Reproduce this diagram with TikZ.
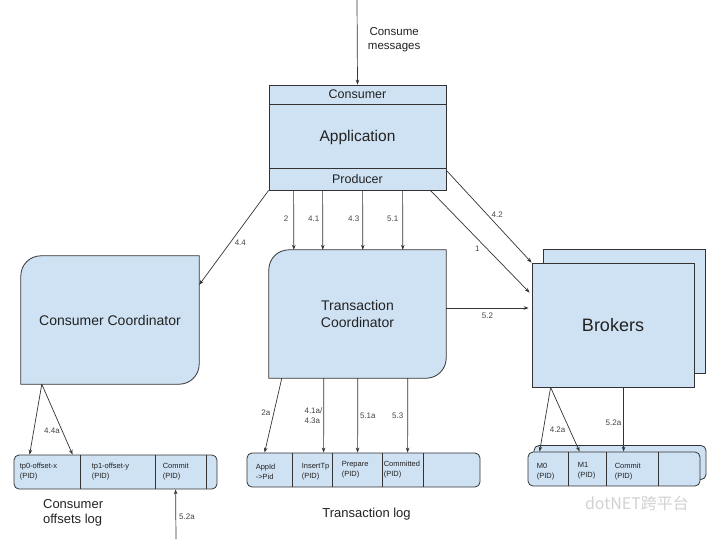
\documentclass[tikz,border=0pt]{standalone}
\usepackage{fontspec}
\setmainfont{Liberation Sans}
\newfontfamily\markfont{Noto Sans CJK SC}
\usetikzlibrary{arrows.meta}
\usetikzlibrary{calc,positioning}

\definecolor{boxblue}{HTML}{CFE2F3}
\definecolor{linegray}{HTML}{333333}
\definecolor{ink}{HTML}{222222}
\definecolor{numgray}{HTML}{444444}

\tikzset{
    box/.style = {draw=linegray, fill=boxblue, line width=0.8pt, inner sep=0pt},
    ghost/.style = {inner sep=0pt},
    logbox/.style = {box, rounded corners=5pt, minimum height=34pt},
    divider/.style = {draw=linegray, line width=0.8pt},
    flow/.style = {->, draw=linegray, line width=0.7pt},
    num/.style = {font=\fontsize{8}{9.5}\selectfont, text=numgray, inner sep=1pt},
    cell/.style = {font=\fontsize{7.5}{10}\selectfont, text=ink, align=left, anchor=west, inner sep=0pt},
}

\begin{document}
\begin{tikzpicture}[>={Stealth[length=5pt,width=3.6pt]}, x=1pt, y=-1pt]
    \useasboundingbox (0,0) rectangle (720,539);

    % application
    \node[box, minimum width=177pt, minimum height=105pt] (app) at (357.5,137.5) {};
    \draw[divider] ($(app.north west)+(0,20)$) -- ($(app.north east)+(0,20)$);
    \draw[divider] ($(app.south west)+(0,-22)$) -- ($(app.south east)+(0,-22)$);
    \node[font=\fontsize{12.5}{14}\selectfont, text=ink] (appcons) at ($(app.north)+(0,10)$) {Consumer};
    \node[font=\fontsize{15.5}{18}\selectfont, text=ink] (appname) at (app.center) {Application};
    \node[font=\fontsize{12.5}{14}\selectfont, text=ink] (appprod) at ($(app.south)+(0,-11)$) {Producer};

    % consumer coordinator
    \node[ghost, minimum width=178pt, minimum height=128pt] (cc) at (110,320) {};
    \draw[box] (cc.south west) -- ($(cc.north west)+(0,20)$) .. controls +(0,-11) and +(-11,0) .. ($(cc.north west)+(20,0)$)
        -- (cc.north east) -- ($(cc.south east)+(0,-20)$) .. controls +(0,11) and +(11,0) .. ($(cc.south east)+(-20,0)$) -- cycle;
    \node[font=\fontsize{14}{17}\selectfont, text=ink] (cctext) at (cc.center) {Consumer Coordinator};

    % transaction coordinator
    \node[ghost, minimum width=177pt, minimum height=128pt] (tc) at (357.5,314) {};
    \draw[box] (tc.south west) -- ($(tc.north west)+(0,20)$) .. controls +(0,-11) and +(-11,0) .. ($(tc.north west)+(20,0)$)
        -- (tc.north east) -- ($(tc.south east)+(0,-20)$) .. controls +(0,11) and +(11,0) .. ($(tc.south east)+(-20,0)$) -- cycle;
    \node[font=\fontsize{14}{17}\selectfont, text=ink, align=center] (tctext) at (tc.center) {Transaction\\Coordinator};

    % brokers
    \node[box, minimum width=162pt, minimum height=124pt] (brkback) at (624,311) {};
    \node[box, minimum width=162pt, minimum height=124pt, font=\fontsize{18}{20}\selectfont, text=ink] (brk) at (613,325) {Brokers};

    % consumer offsets log
    \node[logbox, minimum width=203pt] (olog) at (115.5,472) {};
    \foreach \x in {67,142,193}
        \draw[divider] ($(olog.north west)+(\x,0)$) -- ($(olog.south west)+(\x,0)$);
    \node[cell] (olog0) at ($(olog.west)+(6,0)$) {tp0-offset-x\\(PID)};
    \node[cell] (olog1) at ($(olog.west)+(78,0)$) {tp1-offset-y\\(PID)};
    \node[cell] (olog2) at ($(olog.west)+(149,0)$) {Commit\\(PID)};
    \node[font=\fontsize{13}{15}\selectfont, text=ink, align=left, anchor=west] (ologname) at ($(olog.south west)+(26,23)$) {Consumer\\offsets log};

    % transaction log
    \node[logbox, minimum width=233pt] (tlog) at (363.5,470) {};
    \foreach \x in {46,86,136,177}
        \draw[divider] ($(tlog.north west)+(\x,0)$) -- ($(tlog.south west)+(\x,0)$);
    \node[cell] (tlog0) at ($(tlog.west)+(9,2)$) {AppId\\->Pid};
    \node[cell] (tlog1) at ($(tlog.west)+(55,2)$) {InsertTp\\(PID)};
    \node[cell] (tlog2) at ($(tlog.west)+(95,0)$) {Prepare\\(PID)};
    \node[cell] (tlog3) at ($(tlog.west)+(137,0)$) {Committed\\(PID)};
    \node[font=\fontsize{13}{15}\selectfont, text=ink] (tlogname) at ($(tlog.south)+(3,27)$) {Transaction log};

    % broker log
    \node[logbox, minimum width=172pt] (blogback) at (620,462.5) {};
    \node[logbox, minimum width=172pt] (blog) at (614,469) {};
    \foreach \x in {41,79,131}
        \draw[divider] ($(blog.north west)+(\x,0)$) -- ($(blog.south west)+(\x,0)$);
    \node[cell] (blog0) at ($(blog.west)+(9,3)$) {M0\\(PID)};
    \node[cell] (blog1) at ($(blog.west)+(50,2)$) {M1\\(PID)};
    \node[cell] (blog2) at ($(blog.west)+(87,3)$) {Commit\\(PID)};
    \node[font=\markfont\fontsize{16}{18}\selectfont, text=black!18] (mark) at (637,503) {dotNET跨平台};

    % incoming messages
    \coordinate (feed) at (357,0);
    \draw[flow] (feed) -- node[right=7pt, pos=.47, align=center, font=\fontsize{11.5}{14}\selectfont, text=ink]{Consume\\messages} (app.north);

    % producer requests
    \draw[flow] (app.south west) -- node[num, right=3pt, pos=.55]{4.4} ($(cc.north east)+(0,29)$);
    \draw[flow] ($(app.south west)+(25,0)$) -- node[num, left=4pt, pos=.47]{2} ($(tc.north west)+(25,0)$);
    \draw[flow] ($(app.south west)+(54,0)$) -- node[num, left=2pt, pos=.47]{4.1} ($(tc.north west)+(54,0)$);
    \draw[flow] ($(app.south west)+(94,0)$) -- node[num, left=2pt, pos=.47]{4.3} ($(tc.north west)+(94,0)$);
    \draw[flow] ($(app.south west)+(134,0)$) -- node[num, left=3pt, pos=.47]{5.1} ($(tc.north west)+(134,0)$);
    \draw[flow] ($(app.south east)+(-16,0)$) -- node[num, left=6pt, pos=.57]{1} ($(brk.north west)+(-2,30)$);
    \draw[flow] ($(app.south east)+(0,-20)$) -- node[num, right=3pt, pos=.48]{4.2} (brk.north west);
    \draw[flow] ($(tc.east)+(0,-6)$) -- node[num, below=4pt]{5.2} ($(brk.west)+(-3,-17)$);

    % coordinator writes
    \draw[flow] ($(tc.south west)+(13,0)$) -- node[num, left=2pt, pos=.47]{2a} ($(tlog.north west)+(18,0)$);
    \draw[flow] ($(tc.south west)+(55,0)$) -- node[num, left=0pt, pos=.5, align=left]{4.1a/\\4.3a} ($(tlog.north west)+(77,0)$);
    \draw[flow] ($(tc.south west)+(89,0)$) -- node[num, right=1pt, pos=.5]{5.1a} ($(tlog.north west)+(111,0)$);
    \draw[flow] ($(tc.south west)+(139,0)$) -- node[num, left=3pt, pos=.5]{5.3} ($(tlog.north west)+(161,0)$);

    \draw[flow] ($(cc.south west)+(21,0)$) -- ($(olog.north west)+(16,0)$);
    \draw[flow] ($(cc.south west)+(21,0)$) -- node[num, left=1pt, pos=.66]{4.4a} ($(olog.north west)+(59,0)$);
    \coordinate (offsrc) at (176,539);
    \draw[flow] (offsrc) -- node[num, right=2pt, pos=.45]{5.2a} ($(olog.south west)+(162,0)$);

    \draw[flow] ($(brk.south west)+(19,0)$) -- ($(blog.north west)+(12,0)$);
    \draw[flow] ($(brk.south west)+(19,0)$) -- node[num, left=3pt, pos=.66]{4.2a} ($(blog.north west)+(52,0)$);
    \draw[flow] ($(brk.south west)+(92,0)$) -- node[num, left=1pt, pos=.55]{5.2a} ($(blog.north west)+(96,0)$);
\end{tikzpicture}
\end{document}
